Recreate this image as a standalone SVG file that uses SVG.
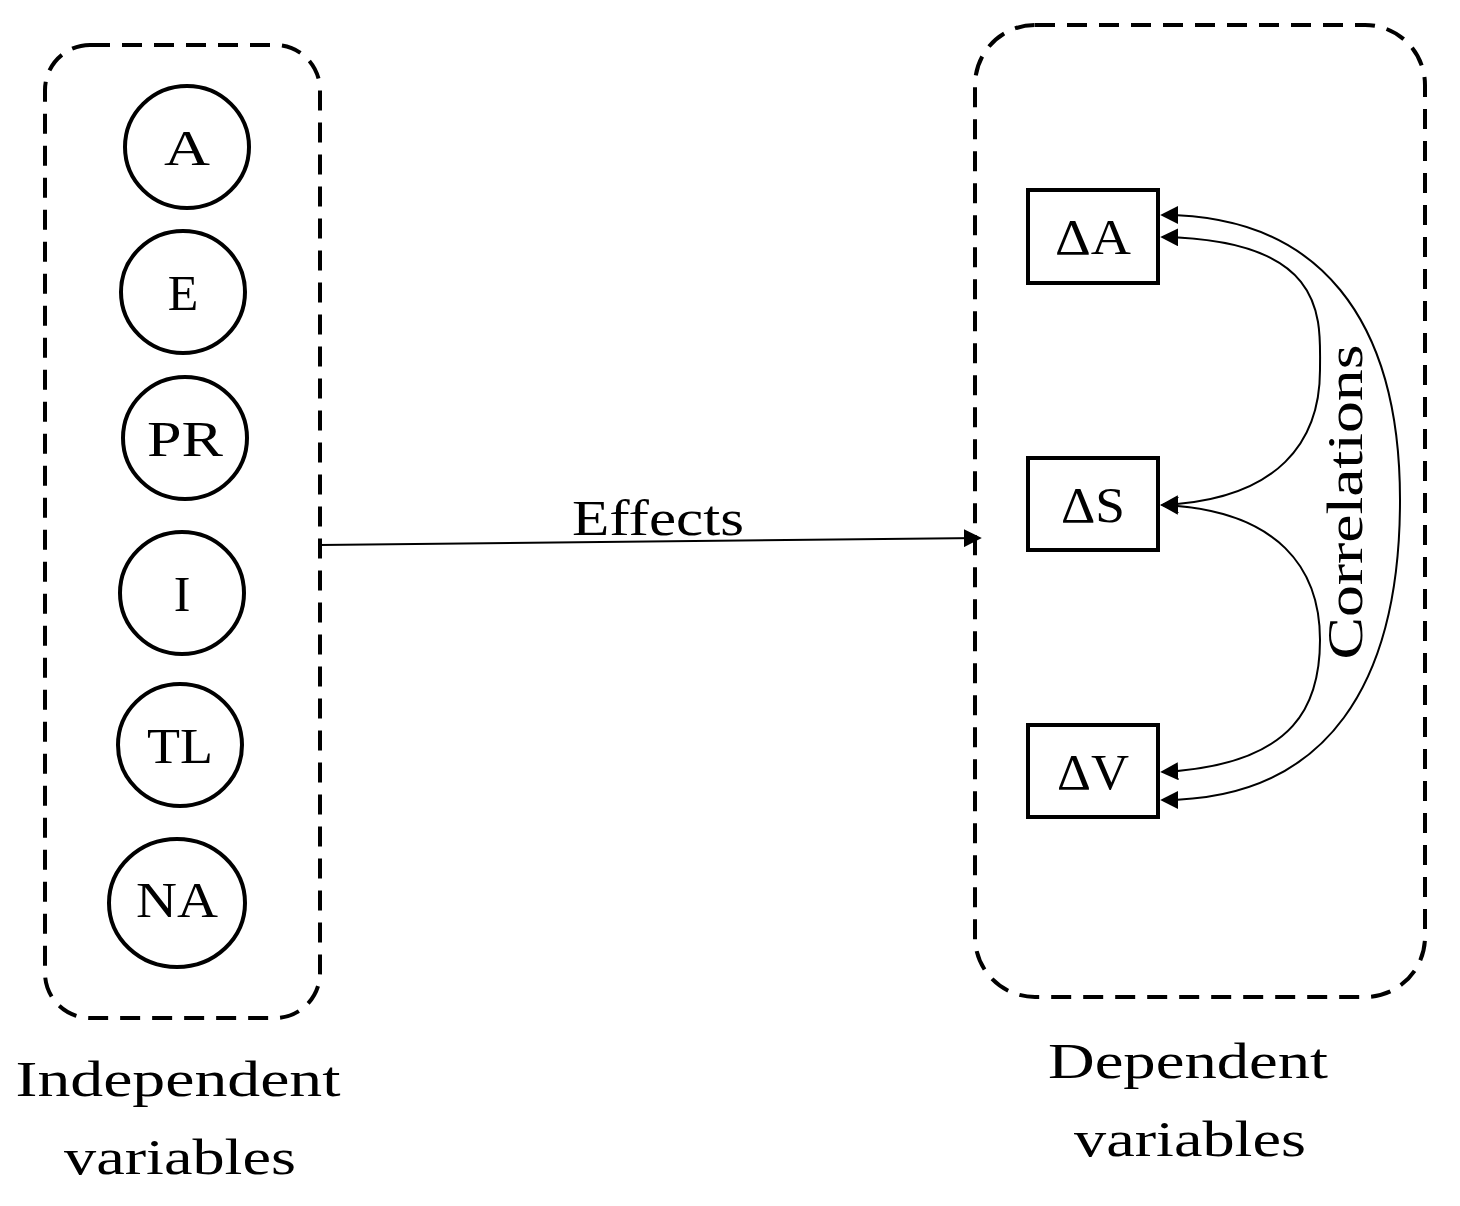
<svg xmlns="http://www.w3.org/2000/svg" width="1460" height="1206" viewBox="0 0 1460 1206">
<style>
.dash{fill:none;stroke:#000;stroke-width:4;stroke-dasharray:20 12}
.c{fill:#fff;stroke:#000;stroke-width:4}
.t{font-family:"Liberation Serif",serif;font-size:50px;text-anchor:middle;fill:#000}
.l{fill:none;stroke:#000;stroke-width:2}
</style>
<defs><marker id="ah2" viewBox="0 0 10 10" refX="9" refY="5" markerWidth="18" markerHeight="18" markerUnits="userSpaceOnUse" orient="auto-start-reverse"><path d="M0,0L10,5L0,10z"/></marker></defs>
<rect class="dash" x="45" y="45" width="275" height="973" rx="45"/>
<rect class="dash" x="975" y="25" width="450" height="972" rx="60"/>
<g id="A"><ellipse class="c" cx="187" cy="147" rx="62" ry="61"/><text class="t" x="187" y="165" textLength="46" lengthAdjust="spacingAndGlyphs">A</text></g>
<g id="E"><ellipse class="c" cx="183" cy="292" rx="62" ry="61"/><text class="t" x="183" y="310">E</text></g>
<g id="PR"><ellipse class="c" cx="185" cy="438" rx="62" ry="61"/><text class="t" x="185" y="456" textLength="76" lengthAdjust="spacingAndGlyphs">PR</text></g>
<g id="I"><ellipse class="c" cx="182" cy="593" rx="62" ry="61"/><text class="t" x="182" y="611">I</text></g>
<g id="TL"><ellipse class="c" cx="180" cy="745" rx="62" ry="61"/><text class="t" x="180" y="763" textLength="66" lengthAdjust="spacingAndGlyphs">TL</text></g>
<g id="NA"><ellipse class="c" cx="177" cy="903" rx="68" ry="64"/><text class="t" x="177" y="917" textLength="82" lengthAdjust="spacingAndGlyphs">NA</text></g>
<g id="dA"><rect class="c" x="1028" y="190" width="130" height="93"/><text class="t" x="1093" y="254" textLength="76" lengthAdjust="spacingAndGlyphs">ΔA</text></g>
<g id="dS"><rect class="c" x="1028" y="458" width="130" height="92"/><text class="t" x="1093" y="522" textLength="64" lengthAdjust="spacingAndGlyphs">ΔS</text></g>
<g id="dV"><rect class="c" x="1028" y="725" width="130" height="92"/><text class="t" x="1093" y="789" textLength="72" lengthAdjust="spacingAndGlyphs">ΔV</text></g>
<g id="connectors">
<path class="l" d="M320,545 L980,538" marker-end="url(#ah2)"/>
<path class="l" d="M1162,237 C1330,240 1320,320 1320,370 C1320,440 1280,500 1162,505" marker-start="url(#ah2)" marker-end="url(#ah2)"/>
<path class="l" d="M1162,505 C1280,510 1320,570 1320,640 C1320,700 1300,765 1162,772" marker-start="url(#ah2)" marker-end="url(#ah2)"/>
<path class="l" d="M1162,215 C1320,215 1400,320 1400,500 C1400,680 1330,800 1162,800" marker-start="url(#ah2)" marker-end="url(#ah2)"/>
</g>
<text class="t" x="658" y="535" textLength="172" lengthAdjust="spacingAndGlyphs">Effects</text>
<text class="t" transform="translate(1362,502) rotate(-90)" textLength="315" lengthAdjust="spacingAndGlyphs">Correlations</text>
<text class="t" x="178" y="1096" textLength="325" lengthAdjust="spacingAndGlyphs">Independent</text>
<text class="t" x="180" y="1174" textLength="232" lengthAdjust="spacingAndGlyphs">variables</text>
<text class="t" x="1188" y="1078" textLength="280" lengthAdjust="spacingAndGlyphs">Dependent</text>
<text class="t" x="1190" y="1156" textLength="232" lengthAdjust="spacingAndGlyphs">variables</text>
</svg>
